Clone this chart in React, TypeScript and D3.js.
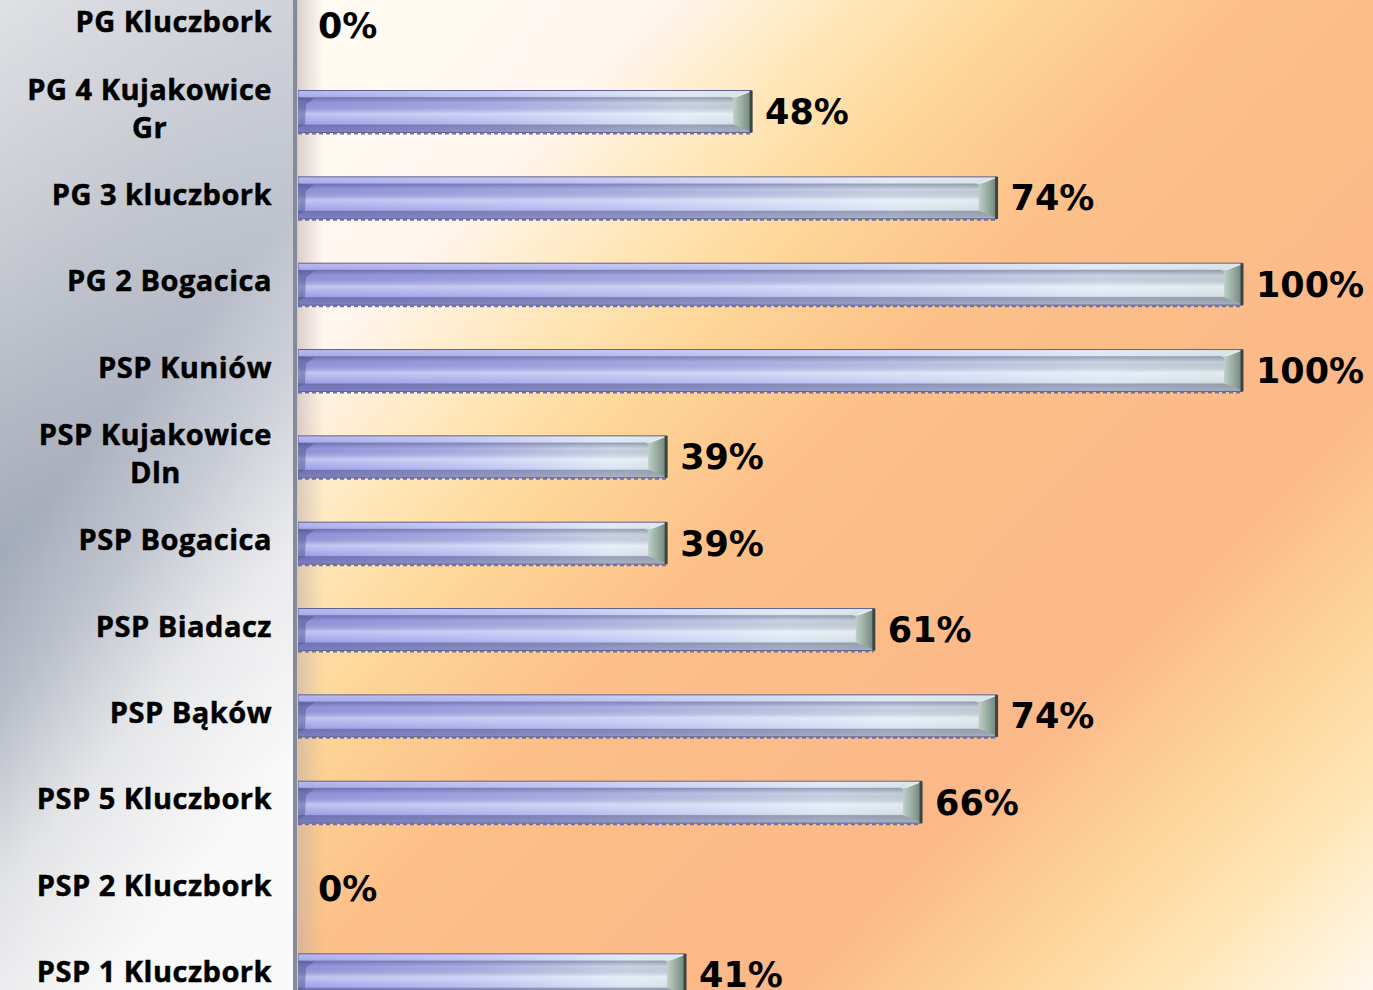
import { useLayoutEffect, useRef } from "react";
import * as d3 from "d3";

const WIDTH = 1373;
const HEIGHT = 990;
const LABEL_RIGHT = 272;

// categories top to bottom, "\n" marks where the original label wraps
const categories = [
  "PG Kluczbork",
  "PG 4 Kujakowice\nGr",
  "PG 3 kluczbork",
  "PG 2 Bogacica",
  "PSP Kuniów",
  "PSP Kujakowice\nDln",
  "PSP Bogacica",
  "PSP Biadacz",
  "PSP Bąków",
  "PSP 5 Kluczbork",
  "PSP 2 Kluczbork",
  "PSP 1 Kluczbork",
];
const values = [0, 48, 74, 100, 100, 39, 39, 61, 74, 66, 0, 41];

export default function App() {
  const labelsRef = useRef<SVGGElement>(null);

  const x = d3.scaleLinear().domain([0, 100]).range([298, 1242]);
  const y = d3
    .scaleBand()
    .domain(categories)
    .range([-18, 1018])
    .paddingInner(0.514)
    .paddingOuter(0.257);
  const bh = y.bandwidth();

  // center wrapped labels under their widest line, block right-aligned
  useLayoutEffect(() => {
    document.body.style.margin = "0";
    const g = d3.select(labelsRef.current);
    g.selectAll<SVGTextElement, unknown>("text.cat").each(function () {
      const t = d3.select(this);
      const spans = t.selectAll<SVGTSpanElement, unknown>("tspan").nodes();
      if (spans.length < 2) return;
      const w = d3.max(spans, (s) => s.getComputedTextLength()) || 0;
      const cx = LABEL_RIGHT - w / 2;
      t.attr("text-anchor", "middle");
      spans.forEach((s) => s.setAttribute("x", String(cx)));
    });
  }, []);

  const pts = (p: number[][]) => p.map((d) => d.join(",")).join(" ");

  return (
    <svg width={WIDTH} height={HEIGHT} style={{ display: "block" }}>
      <defs>
        <linearGradient id="leftBg" x1="0" y1="0" x2="0.35" y2="1">
          <stop offset="0" stopColor="#E0E1E5" />
          <stop offset="0.22" stopColor="#C8CBD2" />
          <stop offset="0.5" stopColor="#A3AAB9" />
          <stop offset="0.64" stopColor="#B8BDC8" />
          <stop offset="0.8" stopColor="#E2E3E6" />
          <stop offset="1" stopColor="#F7F7F7" />
        </linearGradient>
        <linearGradient id="leftSheen" x1="0" y1="0" x2="1" y2="0">
          <stop offset="0" stopColor="#fff" stopOpacity="0" />
          <stop offset="1" stopColor="#fff" stopOpacity="0.3" />
        </linearGradient>
        <linearGradient
          id="plotBg"
          gradientUnits="userSpaceOnUse"
          x1="298"
          y1="-60"
          x2="1373"
          y2="990"
        >
          <stop offset="0" stopColor="#FFFDF4" />
          <stop offset="0.2" stopColor="#FFF6F0" />
          <stop offset="0.3" stopColor="#FFE6B6" />
          <stop offset="0.38" stopColor="#FED596" />
          <stop offset="0.48" stopColor="#FCC088" />
          <stop offset="0.72" stopColor="#FBB889" />
          <stop offset="0.82" stopColor="#FDD49A" />
          <stop offset="0.9" stopColor="#FFE6B6" />
          <stop offset="1" stopColor="#FFF8EE" />
        </linearGradient>
        <linearGradient id="axisShadow" x1="0" y1="0" x2="1" y2="0">
          <stop offset="0" stopColor="#B9A8A8" stopOpacity="0.5" />
          <stop offset="1" stopColor="#B9A8A8" stopOpacity="0" />
        </linearGradient>
        <linearGradient id="barFace" x1="0" y1="0" x2="1" y2="0">
          <stop offset="0" stopColor="#9A9CE8" />
          <stop offset="0.45" stopColor="#B5B9F0" />
          <stop offset="0.85" stopColor="#DAE4F3" />
          <stop offset="1" stopColor="#D0DCE0" />
        </linearGradient>
        <linearGradient id="barShade" x1="0" y1="0" x2="0" y2="1">
          <stop offset="0" stopColor="#fff" stopOpacity="0.3" />
          <stop offset="0.14" stopColor="#fff" stopOpacity="0.15" />
          <stop offset="0.17" stopColor="#20244a" stopOpacity="0.35" />
          <stop offset="0.3" stopColor="#20244a" stopOpacity="0.08" />
          <stop offset="0.55" stopColor="#fff" stopOpacity="0.4" />
          <stop offset="0.78" stopColor="#fff" stopOpacity="0.05" />
          <stop offset="0.82" stopColor="#20244a" stopOpacity="0.35" />
          <stop offset="1" stopColor="#20244a" stopOpacity="0.25" />
        </linearGradient>
        <linearGradient id="capGrad" x1="0" y1="0" x2="1" y2="0">
          <stop offset="0" stopColor="#BFD0C7" />
          <stop offset="0.5" stopColor="#98ACA1" />
          <stop offset="1" stopColor="#71847B" />
        </linearGradient>
      </defs>

      {/* backgrounds */}
      <rect x={0} y={0} width={294} height={HEIGHT} fill="url(#leftBg)" />
      <rect x={0} y={0} width={294} height={HEIGHT} fill="url(#leftSheen)" />
      <rect x={294} y={0} width={WIDTH - 294} height={HEIGHT} fill="url(#plotBg)" />
      <rect x={298} y={0} width={26} height={HEIGHT} fill="url(#axisShadow)" />

      {/* bars */}
      <g>
        {categories.map((c, i) => {
          const v = values[i];
          const x0 = x(0);
          const x1 = x(v);
          const y0 = y(c) as number;
          if (v <= 0) return null;
          return (
            <g key={c}>
              <rect x={x0} y={y0} width={x1 - x0} height={bh} fill="url(#barFace)" />
              <rect x={x0} y={y0} width={x1 - x0} height={bh} fill="url(#barShade)" />
              <polygon
                points={pts([
                  [x0 + 1, y0 + 7],
                  [x0 + 16, y0 + 8],
                  [x0 + 8, y0 + 14],
                  [x0 + 7, y0 + bh - 8],
                  [x0 + 1, y0 + bh - 5],
                ])}
                fill="#4A4F80"
                opacity={0.45}
              />
              <polygon
                points={pts([
                  [x1 - 18, y0 + 8],
                  [x1, y0 + 1],
                  [x1, y0 + bh - 1],
                  [x1 - 18, y0 + bh - 8],
                ])}
                fill="url(#capGrad)"
              />
              <polygon
                points={pts([
                  [x1 - 18, y0 + 8],
                  [x1, y0 + 1],
                  [x1 - 4, y0 + 1],
                  [x1 - 21, y0 + 7],
                ])}
                fill="#E6EEF0"
                opacity={0.6}
              />
              <rect
                x={x0}
                y={y0}
                width={x1 - x0}
                height={bh}
                fill="none"
                stroke="#5E6290"
                strokeWidth={1}
              />
              <line x1={x1} x2={x1} y1={y0} y2={y0 + bh} stroke="#3A4642" strokeWidth={3} />
              <line
                x1={x0}
                x2={x1}
                y1={y0 + bh + 1}
                y2={y0 + bh + 1}
                stroke="#6C70A6"
                strokeWidth={2}
                strokeDasharray="4 3"
              />
            </g>
          );
        })}
      </g>

      {/* axis line */}
      <rect x={293} y={0} width={4} height={HEIGHT} fill="#878B99" />
      <line x1={297.5} x2={297.5} y1={0} y2={HEIGHT} stroke="#C9CBD3" strokeWidth={1} />

      {/* value labels */}
      <g
        fontFamily="'DejaVu Sans', sans-serif"
        fontWeight={700}
        fontSize={35}
        fill="#000"
      >
        {categories.map((c, i) => (
          <text
            key={c}
            x={x(values[i]) + (values[i] > 0 ? 14 : 20)}
            y={(y(c) as number) + bh / 2}
            dy="0.36em"
          >
            {`${values[i]}%`}
          </text>
        ))}
      </g>

      {/* category labels */}
      <g
        ref={labelsRef}
        fontFamily="'Open Sans', sans-serif"
        fontWeight={700}
        fontSize={29}
        letterSpacing={0.5}
        fill="#000"
        stroke="#000"
        strokeWidth={0.5}
      >
        {categories.map((c) => {
          const lines = c.split("\n");
          const cy = (y(c) as number) + bh / 2 - 3;
          const lh = 38;
          const top = cy - ((lines.length - 1) * lh) / 2;
          return (
            <text key={c} className="cat" textAnchor="end">
              {lines.map((l, j) => (
                <tspan key={j} x={LABEL_RIGHT} y={top + j * lh} dy="0.35em">
                  {l}
                </tspan>
              ))}
            </text>
          );
        })}
      </g>
    </svg>
  );
}
